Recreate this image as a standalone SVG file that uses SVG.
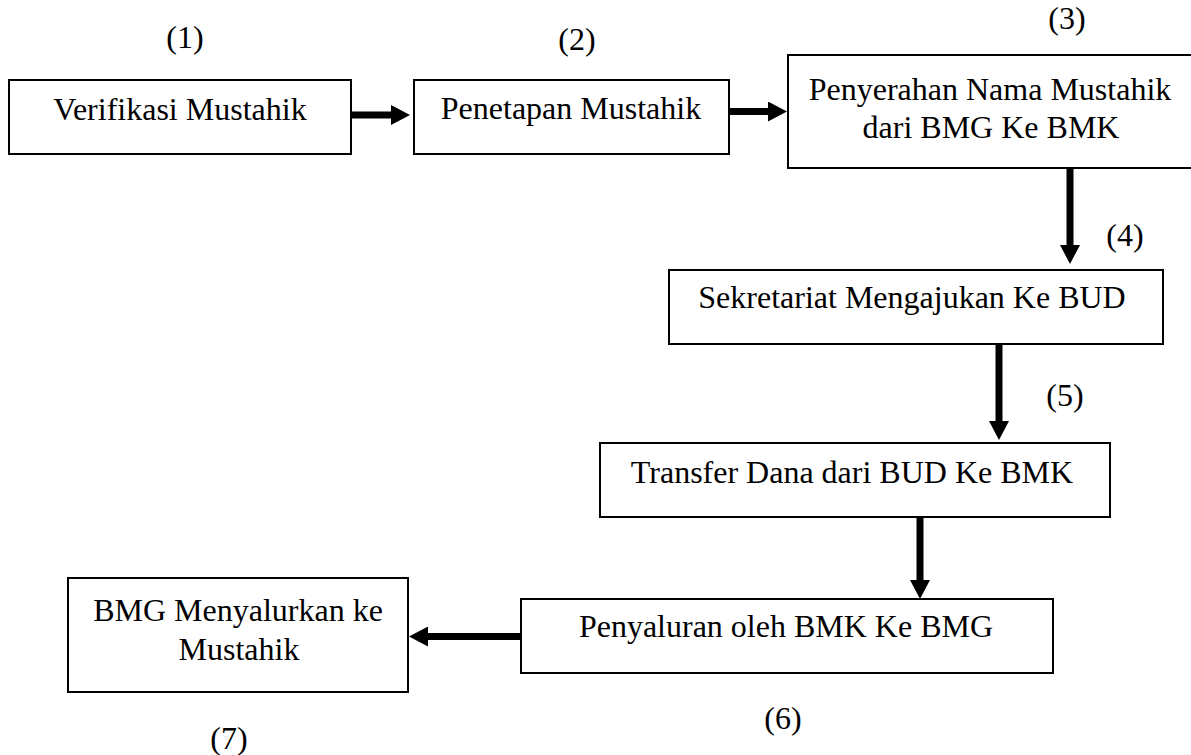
<svg xmlns="http://www.w3.org/2000/svg" width="1191" height="755" viewBox="0 0 1191 755">
<style>
.box{fill:#fff;stroke:#000;stroke-width:2}
.t{font-family:"Liberation Serif","Times New Roman",serif;font-size:32px;fill:#000;text-anchor:middle}
.conn{stroke:#000;stroke-width:7;fill:none;marker-end:url(#ah)}
</style>
<defs>
<marker id="ah" markerUnits="userSpaceOnUse" markerWidth="19" markerHeight="20" refX="0" refY="10" orient="auto">
<path d="M0,0 L19,10 L0,20 z" fill="#000"/>
</marker>
</defs>
<rect width="1191" height="755" fill="#fff"/>
<g id="labels">
<text class="t" x="185" y="48">(1)</text>
<text class="t" x="577" y="50">(2)</text>
<text class="t" x="1067" y="29">(3)</text>
<text class="t" x="1125" y="246">(4)</text>
<text class="t" x="1065" y="406">(5)</text>
<text class="t" x="783" y="729">(6)</text>
<text class="t" x="229" y="749">(7)</text>
</g>
<g id="node1">
<rect class="box" x="9" y="80" width="342" height="74"/>
<text class="t" x="180" y="120">Verifikasi Mustahik</text>
</g>
<g id="node2">
<rect class="box" x="414" y="80" width="315" height="74"/>
<text class="t" x="571" y="119">Penetapan Mustahik</text>
</g>
<g id="node3">
<rect class="box" x="788" y="55" width="406" height="113"/>
<text class="t" x="990" y="100">Penyerahan Nama Mustahik</text>
<text class="t" x="991" y="138">dari BMG Ke BMK</text>
</g>
<g id="node4">
<rect class="box" x="669" y="270" width="494" height="74"/>
<text class="t" x="912" y="308">Sekretariat Mengajukan Ke BUD</text>
</g>
<g id="node5">
<rect class="box" x="600" y="443" width="510" height="74"/>
<text class="t" x="852" y="483">Transfer Dana dari BUD Ke BMK</text>
</g>
<g id="node6">
<rect class="box" x="521" y="599" width="532" height="74"/>
<text class="t" x="786" y="637">Penyaluran oleh BMK Ke BMG</text>
</g>
<g id="node7">
<rect class="box" x="68" y="578" width="340" height="114"/>
<text class="t" x="238" y="621">BMG Menyalurkan ke</text>
<text class="t" x="239" y="660">Mustahik</text>
</g>
<g id="connectors">
<line class="conn" x1="351" y1="115" x2="391" y2="115"/>
<line class="conn" x1="729" y1="111.5" x2="768" y2="111.5"/>
<line class="conn" x1="1070" y1="168" x2="1070" y2="245"/>
<line class="conn" x1="999" y1="344" x2="999" y2="421"/>
<line class="conn" x1="920" y1="517" x2="920" y2="580"/>
<line class="conn" x1="520" y1="636.5" x2="428" y2="636.5"/>
</g>
</svg>
